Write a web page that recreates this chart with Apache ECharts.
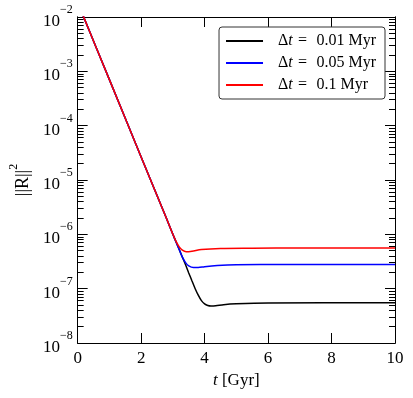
<!DOCTYPE html>
<html>
<head>
<meta charset="utf-8">
<script src="https://cdn.jsdelivr.net/npm/echarts@6/dist/echarts.min.js"></script>
<style>
  html, body { margin: 0; padding: 0; background: #fff; }
  #chart { width: 413px; height: 398px; }
</style>
</head>
<body>
<div id="chart"></div>
<script>
// t in Gyr, ||R||^2
const tBlack = [0, 1, 2, 2.8, 3.0, 3.1, 3.2, 3.3, 3.4, 3.5, 3.6, 3.7, 3.8, 3.9, 4.0, 4.1, 4.2, 4.35, 4.6, 5.0, 6.0, 10]
const rBlack = [1.86e-2, 7.03e-4, 2.65e-5, 1.95e-6, 1.0e-6, 7.24e-7, 5.25e-7, 3.80e-7, 2.75e-7, 1.95e-7, 1.40e-7, 1.01e-7, 7.59e-8, 6.03e-8, 5.25e-8, 4.90e-8, 4.79e-8, 4.84e-8, 5.07e-8, 5.25e-8, 5.43e-8, 5.50e-8]

const tBlue = [0, 1, 2, 2.8, 3.0, 3.1, 3.2, 3.3, 3.4, 3.5, 3.65, 3.8, 4.0, 4.4, 5.0, 6.5, 10]
const rBlue = [1.86e-2, 7.03e-4, 2.65e-5, 1.95e-6, 1.0e-6, 7.24e-7, 5.25e-7, 3.80e-7, 3.02e-7, 2.63e-7, 2.45e-7, 2.45e-7, 2.54e-7, 2.66e-7, 2.75e-7, 2.79e-7, 2.79e-7]

const tRed = [0, 1, 2, 2.8, 3.0, 3.1, 3.2, 3.3, 3.42, 3.6, 3.9, 4.5, 5.5, 7, 10]
const rRed = [1.86e-2, 7.03e-4, 2.65e-5, 1.95e-6, 1.0e-6, 7.41e-7, 5.89e-7, 5.13e-7, 4.79e-7, 4.90e-7, 5.25e-7, 5.50e-7, 5.56e-7, 5.62e-7, 5.62e-7]

const steps = ['0.01', '0.05', '0.1']   // Δt in Myr
const seriesNames = steps.map(s => 'Δt = ' + s + ' Myr')
const seriesColors = ['#000000', '#0000ff', '#ff0000']

const decades = [-8, -7, -6, -5, -4, -3, -2]
const xTicks = [0, 2, 4, 6, 8, 10]

const FONT = 'Liberation Serif'
const majorY = decades.map(e => Math.pow(10, e))
const minorY = []
decades.slice(0, -1).forEach(e => {
  for (let k = 2; k <= 9; k++) minorY.push(k * Math.pow(10, e))
})

const zip = (t, r) => t.map((x, i) => [x, r[i]])

const chart = echarts.init(document.getElementById('chart'))

const yBase = {
  type: 'log',
  logBase: 10,
  min: 1e-8,
  max: 1e-2,
  splitLine: { show: false },
  axisLine: { show: true, lineStyle: { color: '#000', width: 1 } },
}

const option = {
  animation: false,
  backgroundColor: '#fff',
  grid: { left: 76, right: 18, top: 17, bottom: 55, containLabel: false },
  legend: {
    orient: 'vertical',
    right: 28,
    top: 27,
    padding: [6, 9, 6, 7],
    itemWidth: 37,
    itemHeight: 2,
    itemGap: 6,
    icon: 'rect',
    borderColor: '#333',
    borderWidth: 1,
    borderRadius: 3,
    backgroundColor: '#fff',
    data: seriesNames,
    formatter: name => '{n|Δ}{i|t}{n|\u2004=\u2004' + name.slice(4) + '}',
    textStyle: {
      padding: [0, 0, 0, 10],
      rich: {
        n: { fontFamily: FONT, fontSize: 16, color: '#000' },
        i: { fontFamily: FONT, fontSize: 16, fontStyle: 'italic', color: '#000' },
      },
    },
  },
  xAxis: [{
    type: 'value',
    min: 0,
    max: 10,
    interval: 2,
    position: 'bottom',
    splitLine: { show: false },
    axisLine: { show: true, lineStyle: { color: '#000', width: 1 } },
    axisTick: { inside: true, length: 10, lineStyle: { color: '#000' } },
    axisLabel: {
      margin: 7,
      fontFamily: FONT,
      fontSize: 17,
      color: '#000',
      customValues: xTicks,
    },
    name: '{i|t}{n| [Gyr]}',
    nameLocation: 'middle',
    nameGap: 25,
    nameTextStyle: {
      rich: {
        n: { fontFamily: FONT, fontSize: 17, color: '#000' },
        i: { fontFamily: FONT, fontSize: 17, fontStyle: 'italic', color: '#000' },
      },
    },
  }, {
    type: 'value',
    min: 0,
    max: 10,
    interval: 2,
    position: 'top',
    splitLine: { show: false },
    axisLine: { show: true, lineStyle: { color: '#000', width: 1 } },
    axisTick: { inside: true, length: 10, lineStyle: { color: '#000' } },
    axisLabel: { show: false },
  }],
  yAxis: [
    Object.assign({}, yBase, {
      position: 'left',
      axisTick: { inside: true, length: 10, customValues: majorY, lineStyle: { color: '#000' } },
      axisLabel: {
        margin: 5,
        customValues: majorY,
        formatter: v => '{b|10}{s|−' + Math.round(-Math.log10(v)) + '}',
        rich: {
          b: { fontFamily: FONT, fontSize: 17, color: '#000', lineHeight: 26, verticalAlign: 'bottom' },
          s: { fontFamily: FONT, fontSize: 12, color: '#000', lineHeight: 12, verticalAlign: 'top' },
        },
      },
      name: '{b|||R||}{s|2}',
      nameLocation: 'middle',
      nameGap: 42,
      nameTextStyle: {
        rich: {
          b: { fontFamily: FONT, fontSize: 18, color: '#000', lineHeight: 24, verticalAlign: 'bottom' },
          s: { fontFamily: FONT, fontSize: 12, color: '#000', lineHeight: 12, verticalAlign: 'top' },
        },
      },
    }),
    Object.assign({}, yBase, {
      position: 'left',
      axisTick: { inside: true, length: 6, customValues: minorY, lineStyle: { color: '#000' } },
      axisLabel: { show: false },
    }),
    Object.assign({}, yBase, {
      position: 'right',
      axisTick: { inside: true, length: 10, customValues: majorY, lineStyle: { color: '#000' } },
      axisLabel: { show: false },
    }),
    Object.assign({}, yBase, {
      position: 'right',
      axisTick: { inside: true, length: 6, customValues: minorY, lineStyle: { color: '#000' } },
      axisLabel: { show: false },
    }),
  ],
  series: [
    [tBlack, rBlack],
    [tBlue, rBlue],
    [tRed, rRed],
  ].map((d, i) => ({
    name: seriesNames[i],
    type: 'line',
    xAxisIndex: 0,
    yAxisIndex: 0,
    data: zip(d[0], d[1]),
    showSymbol: false,
    smooth: 0.3,
    clip: true,
    color: seriesColors[i],
    lineStyle: { color: seriesColors[i], width: 1.5 },
  })),
}

chart.setOption(option)
</script>
</body>
</html>
